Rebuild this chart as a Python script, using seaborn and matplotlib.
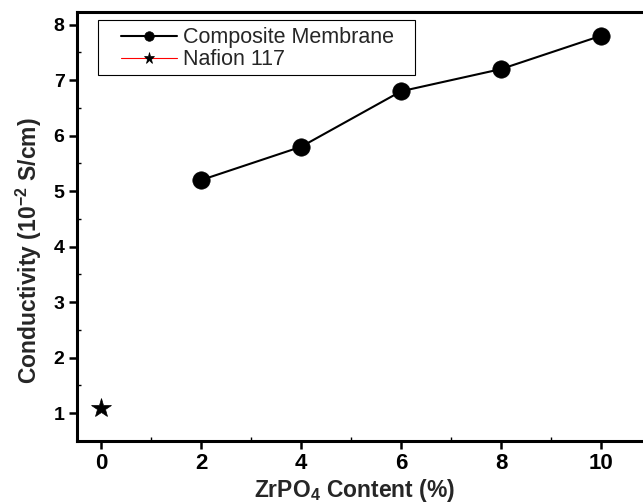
import matplotlib
matplotlib.use("Agg")
import matplotlib.pyplot as plt
from matplotlib.ticker import MultipleLocator
from matplotlib.patches import Rectangle
import seaborn as sns
import pandas as pd

# ZrPO4 loading (%) and proton conductivity (10^-2 S/cm)
composite_content = [2, 4, 6, 8, 10]
composite_conductivity = [5.2, 5.8, 6.8, 7.2, 7.8]
nafion_content = [0]
nafion_conductivity = [1.1]

x_ticks = [0, 2, 4, 6, 8, 10]
y_ticks = [1, 2, 3, 4, 5, 6, 7, 8]

sns.set_theme(style="white")
plt.rcParams["font.family"] = ["Liberation Sans", "DejaVu Sans"]
plt.rcParams["mathtext.default"] = "regular"

composite = pd.DataFrame({"content": composite_content, "cond": composite_conductivity})
nafion = pd.DataFrame({"content": nafion_content, "cond": nafion_conductivity})

fig = plt.figure(figsize=(6.43, 5.03), dpi=100)
ax = fig.add_axes([0.1198, 0.1233, 0.8802, 0.853])

sns.lineplot(data=composite, x="content", y="cond", ax=ax, color="black",
             linewidth=1.5, marker="o", markersize=12.5, markeredgewidth=0.5,
             markeredgecolor="black", markerfacecolor="black",
             label="Composite Membrane")
sns.lineplot(data=nafion, x="content", y="cond", ax=ax, color="red",
             linewidth=0.8, marker="*", markersize=15, markeredgewidth=0.5,
             markeredgecolor="black", markerfacecolor="black",
             label="Nafion 117")

ax.set_xlim(-0.48, 10.84)
ax.set_ylim(0.5, 8.23)
ax.set_xticks(x_ticks)
ax.set_yticks(y_ticks)
ax.xaxis.set_minor_locator(MultipleLocator(1))
ax.yaxis.set_minor_locator(MultipleLocator(0.5))

for side in ["left", "bottom", "top"]:
    ax.spines[side].set_linewidth(2.2)
    ax.spines[side].set_color("black")
ax.spines["right"].set_visible(False)

ax.tick_params(axis="both", which="major", direction="out", length=6, width=1.8,
               pad=3, bottom=True, left=True, colors="black")
ax.tick_params(axis="both", which="minor", direction="in", length=3, width=1,
               bottom=True, left=True, colors="black")
ax.tick_params(axis="x", labelsize=16)
ax.tick_params(axis="y", labelsize=14)
for lbl in ax.get_xticklabels() + ax.get_yticklabels():
    lbl.set_fontweight("bold")

ax.set_xlabel("ZrPO$_4$ Content (%)", fontsize=16.5, fontweight="bold")
ax.set_ylabel("Conductivity (10$^{-2}$ S/cm)", fontsize=16.5, fontweight="bold")
ax.xaxis.set_label_coords(0.49, -0.083)
ax.yaxis.set_label_coords(-0.058, 0.443)

# legend entries without frame, boxed by a separate rectangle
leg = ax.legend(loc="upper left", bbox_to_anchor=(0.0777, 0.964), fontsize=15.5,
                frameon=False, borderpad=0, labelspacing=0.05, handlelength=2.6,
                handletextpad=0.28, borderaxespad=0, markerscale=0.55)
for h in leg.legend_handles:
    h.set_linewidth(1.5 if h.get_color() == "black" else 0.8)
ax.add_patch(Rectangle((0.037, 0.853), 0.56, 0.128, transform=ax.transAxes,
                       fill=False, edgecolor="black", linewidth=0.8, zorder=5))

fig.savefig("out.png", dpi=100)
